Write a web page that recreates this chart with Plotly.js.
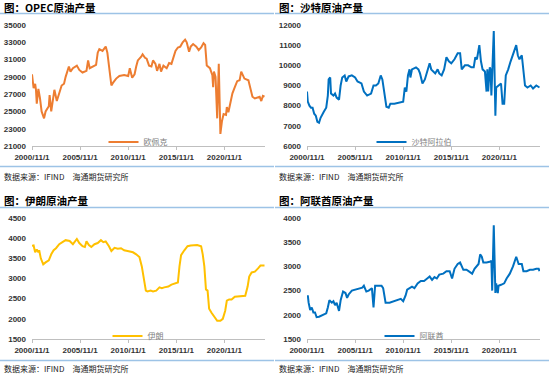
<!DOCTYPE html>
<html><head><meta charset="utf-8">
<script src="https://cdn.plot.ly/plotly-3.0.1.min.js"></script>
<style>html,body{margin:0;padding:0;background:#fff}#chart{width:550px;height:375px}</style>
</head><body><div id="chart"></div>
<script>
// ---- Data (estimated from reference, thousand barrels/day) ----
const opecDates = ["2000-11","2001-01","2001-03","2001-04","2001-05","2001-07","2001-09","2001-11","2002-02","2002-04","2002-08","2002-09","2002-11","2003-01","2003-03","2003-06","2003-09","2003-12","2004-03","2004-05","2004-09","2004-11","2005-02","2005-07","2005-10","2006-02","2006-07","2006-09","2006-11","2007-03","2007-07","2007-09","2007-11","2008-03","2008-07","2008-09","2008-12","2009-02","2009-04","2009-08","2009-12","2010-06","2010-11","2011-01","2011-04","2011-07","2011-09","2011-11","2012-03","2012-05","2012-08","2012-10","2013-01","2013-04","2013-06","2013-09","2013-11","2014-02","2014-04","2014-07","2014-11","2015-02","2015-05","2015-07","2015-10","2016-01","2016-04","2016-07","2016-10","2016-12","2017-03","2017-05","2017-08","2017-12","2018-03","2018-06","2018-09","2018-11","2019-01","2019-05","2019-08","2019-09","2019-10","2019-12","2020-02","2020-04","2020-06","2020-08","2020-10","2021-01","2021-02","2021-04","2021-07","2021-09","2021-12","2022-03","2022-06","2022-08","2022-09","2022-12","2023-05","2023-07","2023-10","2024-01","2024-04","2024-07","2024-09","2024-11","2025-01"];
const opecValues = [29300,27700,28200,27500,25900,27600,26500,25000,24200,25000,25600,26900,25000,26500,27500,26200,27000,28000,28200,29000,30200,29600,30000,30300,29800,29500,29700,30900,30000,30200,30400,31800,32200,32000,32500,31800,29500,28000,28300,28800,29100,29200,29100,30000,28900,29300,30200,30900,31300,31600,31200,31100,30300,30200,30900,30500,29700,30500,29600,30300,30000,30600,30500,31200,32000,32400,32500,33000,33300,33000,31900,32500,32800,32500,32100,32400,32900,32700,30300,30000,29200,27800,29600,29000,24200,30500,22400,23900,24700,24600,25500,24900,26000,27100,27800,28500,28600,29600,29400,28800,28600,27700,26700,26500,26600,26700,26200,26800,26700];

const saudiDates = ["2000-11","2000-12","2001-02","2001-04","2001-06","2001-08","2001-10","2001-12","2002-02","2002-04","2002-08","2002-11","2003-01","2003-02","2003-04","2003-05","2003-08","2003-10","2003-12","2004-03","2004-05","2004-07","2004-10","2004-12","2005-03","2005-07","2005-11","2006-02","2006-07","2006-10","2007-02","2007-07","2007-10","2008-01","2008-04","2008-07","2008-09","2008-12","2009-02","2009-05","2009-07","2009-12","2010-05","2010-08","2010-11","2011-01","2011-03","2011-05","2011-07","2011-08","2011-10","2012-03","2012-06","2012-08","2012-11","2013-02","2013-05","2013-08","2013-10","2014-01","2014-03","2014-06","2014-08","2014-11","2015-02","2015-05","2015-08","2015-11","2016-03","2016-07","2016-10","2016-12","2017-04","2017-08","2017-12","2018-03","2018-05","2018-07","2018-10","2018-12","2019-02","2019-05","2019-07","2019-08","2019-09","2019-11","2019-12","2020-01","2020-04","2020-06","2020-07","2020-10","2021-01","2021-03","2021-05","2021-07","2021-10","2022-01","2022-04","2022-08","2022-10","2022-12","2023-03","2023-07","2023-10","2024-02","2024-05","2024-09","2025-01"];
const saudiValues = [8700,8200,8000,7900,7900,7600,7500,7200,7150,7400,7700,7900,8500,9300,9400,8600,8500,8600,8400,8300,9000,9400,9500,9200,9450,9500,9400,9200,9100,8700,8500,8600,9000,9000,9100,9500,9300,8500,7950,7900,8100,8100,8150,8200,8200,8900,8700,9500,9800,9400,9800,9900,9800,9600,9100,9300,9700,10100,9800,9700,9600,9800,9600,9500,9800,10400,10200,10100,10300,10600,10600,9800,10000,10000,9900,9900,10400,10300,11000,10200,9800,9700,8700,9800,8700,9900,9800,8500,11700,7500,8900,9000,9100,8100,8100,9500,9800,10200,10500,11000,10500,10300,10500,9000,8900,9000,8850,9000,8900];

const iranDates = ["2000-11","2001-01","2001-03","2001-05","2001-07","2001-08","2001-10","2002-01","2002-04","2002-08","2002-11","2003-02","2003-05","2003-09","2004-01","2004-05","2004-10","2005-02","2005-07","2005-10","2006-02","2006-05","2006-07","2006-10","2007-01","2007-05","2007-09","2008-01","2008-04","2008-07","2008-11","2009-02","2009-06","2009-10","2010-02","2010-06","2011-01","2011-05","2011-09","2012-01","2012-04","2012-07","2012-09","2012-11","2013-03","2013-06","2013-10","2014-02","2014-05","2014-08","2015-01","2015-05","2015-09","2016-01","2016-03","2016-05","2016-09","2017-01","2017-05","2017-09","2018-01","2018-06","2018-08","2018-10","2018-12","2019-02","2019-04","2019-07","2019-10","2020-02","2020-06","2020-09","2020-12","2021-02","2021-05","2021-08","2021-12","2022-04","2022-10","2023-01","2023-04","2023-06","2023-09","2024-01","2024-05","2024-08","2025-01"];
const iranValues = [3810,3820,3650,3720,3650,3700,3500,3350,3400,3450,3600,3700,3750,3850,3900,3950,3930,3850,3980,3880,3800,3780,3920,3830,3780,3850,3880,3950,3900,3920,3800,3680,3760,3740,3750,3700,3670,3650,3600,3530,3300,2900,2700,2680,2700,2680,2700,2780,2760,2780,2800,2850,2880,2900,3300,3580,3700,3800,3820,3820,3830,3800,3600,3300,2730,2700,2250,2150,2050,1950,1950,2000,2200,2450,2480,2480,2550,2560,2560,2570,2800,3050,3150,3170,3250,3320,3320];

const uaeDates = ["2000-11","2000-12","2001-01","2001-03","2001-05","2001-07","2001-09","2001-11","2002-02","2002-07","2002-11","2003-01","2003-03","2003-06","2003-08","2003-10","2003-12","2004-03","2004-05","2004-08","2004-11","2005-01","2005-03","2005-07","2005-11","2006-03","2006-08","2006-10","2007-01","2007-04","2007-08","2007-10","2007-12","2008-04","2008-08","2008-10","2009-01","2009-06","2009-12","2010-05","2010-08","2010-11","2011-02","2011-04","2011-07","2011-10","2012-01","2012-05","2012-09","2013-01","2013-05","2013-08","2013-11","2014-02","2014-05","2014-08","2015-01","2015-05","2015-09","2015-12","2016-03","2016-07","2016-10","2017-02","2017-06","2017-10","2018-01","2018-04","2018-09","2018-11","2019-01","2019-03","2019-07","2019-12","2020-01","2020-02","2020-04","2020-06","2020-07","2020-09","2020-10","2021-01","2021-05","2021-08","2021-12","2022-04","2022-08","2022-11","2023-03","2023-05","2023-09","2024-01","2024-05","2024-09","2024-12","2025-01"];
const uaeValues = [2350,2400,2250,2100,2150,2050,2050,1950,1960,2000,2030,2150,2300,2250,2280,2200,2250,2080,2300,2480,2450,2350,2420,2500,2520,2540,2560,2600,2480,2500,2550,2150,2600,2600,2600,2550,2250,2250,2280,2300,2330,2280,2400,2520,2550,2580,2550,2650,2700,2700,2750,2790,2720,2780,2750,2830,2850,2900,2900,2750,2950,3050,3080,2930,2930,2880,2850,2950,3050,3250,3200,3080,3080,3100,3120,2500,3850,2450,2650,2450,2600,2620,2650,2750,2850,3000,3200,3050,3050,2900,2900,2930,2930,2950,2950,2900];

const seriesNames = ["欧佩克","沙特阿拉伯","伊朗","阿联酋"];
const panelTitles = ["图：OPEC原油产量","图：沙特原油产量","图：伊朗原油产量","图：阿联酋原油产量"];
const sourceText = "数据来源：IFIND　海通期货研究所";
const xTickVals = ["2000-11-01","2005-11-01","2010-11-01","2015-11-01","2020-11-01"];
const xTickText = ["2000/11/1","2005/11/1","2010/11/1","2015/11/1","2020/11/1"];
const yTicks = [
  [21000,23000,25000,27000,29000,31000,33000,35000],
  [6000,7000,8000,9000,10000,11000,12000],
  [1500,2000,2500,3000,3500,4000,4500],
  [1500,2000,2500,3000,3500,4000]
];
const yRanges = [[21000,35000],[6000,12000],[1500,4500],[1500,4000]];
// ---------------------------------------------------------------

const W = 550, H = 375;
const px = v => v / W, py = v => 1 - v / H;
const colors = ["#ED7D31","#0070C0","#FFC000","#0070C0"];
const allDates = [opecDates, saudiDates, iranDates, uaeDates];
const allValues = [opecValues, saudiValues, iranValues, uaeValues];

// panel geometry (pixels)
const panels = [
  {x0:32, x1:265, y0:25, y1:146, left:0},
  {x0:307, x1:540, y0:25, y1:146, left:275},
  {x0:32, x1:265, y0:218, y1:339, left:0},
  {x0:307, x1:540, y0:218, y1:339, left:275}
];
const titleY = [7.5, 7.5, 200.5, 200.5];
const titleLineY = [13.5, 13.5, 207.5, 207.5];
const footLineY = [166.5, 166.5, 360.5, 360.5];
const footY = [176.5, 176.5, 368.5, 368.5];
const legendPos = [[138,142],[414,142],[138,336],[414,336]];

const tickFont = {family:"Liberation Sans, Arial, sans-serif", size:8, color:"#333", weight:"bold"};
const layout = {
  width: W, height: H,
  margin: {l:0, r:0, t:0, b:0},
  paper_bgcolor: "#fff", plot_bgcolor: "#fff",
  showlegend: true,
  annotations: [], shapes: []
};
const traces = [];
panels.forEach((p, i) => {
  const n = i === 0 ? "" : String(i + 1);
  traces.push({
    type: "scatter", mode: "lines",
    x: allDates[i].map(d => d + "-01"), y: allValues[i],
    name: seriesNames[i],
    line: {color: colors[i], width: 2},
    xaxis: "x" + n, yaxis: "y" + n,
    legend: "legend" + n
  });
  layout["xaxis" + n] = {
    domain: [px(p.x0), px(p.x1)], anchor: "y" + n, type: "date",
    range: ["2000-11-01", "2025-01-20"],
    tickmode: "array", tickvals: xTickVals, ticktext: xTickText,
    showgrid: false, zeroline: false,
    showline: true, linecolor: "#bfbfbf", linewidth: 1,
    ticks: "outside", ticklen: 3, tickcolor: "#bfbfbf",
    tickfont: tickFont, fixedrange: true
  };
  layout["yaxis" + n] = {
    domain: [py(p.y1), py(p.y0)], anchor: "x" + n,
    range: yRanges[i], tickmode: "array", tickvals: yTicks[i],
    ticktext: yTicks[i].map(String),
    showgrid: false, zeroline: false, showline: false, ticks: "",
    ticklabelstandoff: 5,
    tickfont: tickFont, fixedrange: true
  };
  layout["legend" + n] = {
    x: px(legendPos[i][0]), y: py(legendPos[i][1]),
    xanchor: "center", yanchor: "middle",
    bgcolor: "rgba(0,0,0,0)",
    font: {family:"Noto Sans CJK SC, sans-serif", size:8, color:"#808080"},
    itemwidth: 30
  };
  layout.annotations.push({
    text: panelTitles[i], xref:"paper", yref:"paper",
    x: px(p.left + 2), y: py(titleY[i]), xanchor:"left", yanchor:"middle",
    showarrow:false,
    font:{family:"Noto Sans CJK SC, sans-serif", size:10.5, color:"#000", weight:"bold"}
  });
  layout.annotations.push({
    text: sourceText, xref:"paper", yref:"paper",
    x: px(p.left + 2), y: py(footY[i]), xanchor:"left", yanchor:"middle",
    showarrow:false,
    font:{family:"Noto Sans CJK SC, sans-serif", size:8, color:"#222"}
  });
  [titleLineY[i], footLineY[i]].forEach(yy => layout.shapes.push({
    type:"line", xref:"paper", yref:"paper",
    x0: px(p.left), x1: px(p.left + 274), y0: py(yy), y1: py(yy),
    line:{color:"#9DC3E6", width:1.5}
  }));
});

Plotly.newPlot("chart", traces, layout, {staticPlot:true, displayModeBar:false});
</script></body></html>
